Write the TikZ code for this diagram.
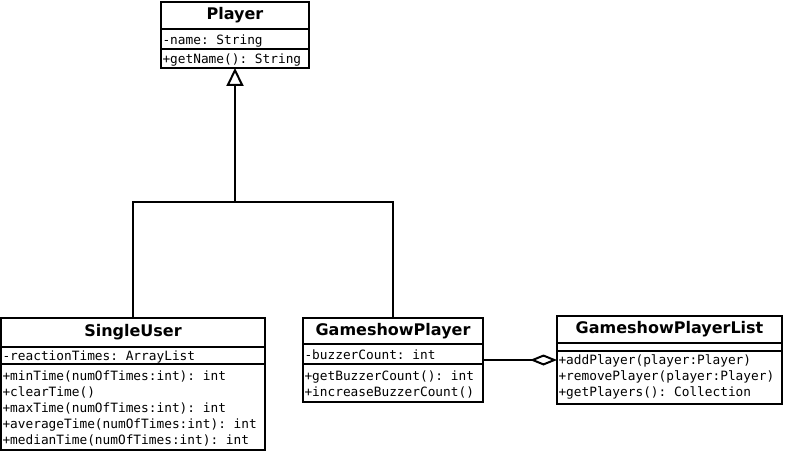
\documentclass[tikz,border=0pt]{standalone}
\usepackage{fontspec}
\setmainfont{DejaVu Sans}
\setmonofont{DejaVu Sans Mono}
\usetikzlibrary{arrows.meta,positioning,shapes.multipart}
\newcommand{\hd}[3]{\parbox[c][#2pt][c]{#1pt}{\centering\bfseries\fontsize{16}{19}\selectfont #3}}
\newcommand{\bd}[4][4pt]{\parbox[c][#3pt][c]{#2pt}{\ttfamily\fontsize{12.8}{16}\selectfont
  \rule{0pt}{\dimexpr11.2pt+#1\relax}#4\strut}}

\begin{document}
\begin{tikzpicture}[x=1pt,y=-1pt,
  cls/.style={draw,fill=white,line width=2pt,rectangle split,rectangle split parts=3,
    inner xsep=1.5pt,inner ysep=0pt,outer sep=0pt},
  gen/.style={line width=2pt,-{Triangle[open,length=18pt,width=17pt]}},
  agg/.style={line width=2pt,-{Diamond[open,length=27pt,width=11pt]}}]
\useasboundingbox[fill=white] (0,0) rectangle (785,452);
\node[cls,anchor=north] (player) at (235,2)
  {\hd{145}{25}{Player}\nodepart{two}\bd{145}{18}{-name: String}%
   \nodepart{three}\bd{145}{17}{+getName(): String}};
\node[cls,anchor=north] (single) at (133,318)
  {\hd{261}{27}{SingleUser}\nodepart{two}\bd{261}{15}{-reactionTimes: ArrayList}%
   \nodepart{three}\bd{261}{84}{+minTime(numOfTimes:int): int\\+clearTime()\\
    +maxTime(numOfTimes:int): int\\+averageTime(numOfTimes:int): int\\
    +medianTime(numOfTimes:int): int}};
\node[cls,anchor=north] (gameshow) at (393,318)
  {\hd{177}{24}{GameshowPlayer}\nodepart{two}\bd{177}{18}{-buzzerCount: int}%
   \nodepart{three}\bd{177}{36}{+getBuzzerCount(): int\\+increaseBuzzerCount()}};
\node[cls,right=74pt of gameshow] (list)
  {\hd{222}{25}{GameshowPlayerList}\nodepart{two}\bd{222}{6}{}%
   \nodepart{three}\bd[0pt]{222}{51}{+addPlayer(player:Player)\\+removePlayer(player:Player)\\
    +getPlayers(): Collection}};
\coordinate (fork) at (235,202);
\draw[line width=2pt] (single.north) |- (fork) -| (gameshow.north);
\draw[gen] (fork) -- (player.south);
\draw[agg] (gameshow.east) -- (list.west);
\end{tikzpicture}
\end{document}
